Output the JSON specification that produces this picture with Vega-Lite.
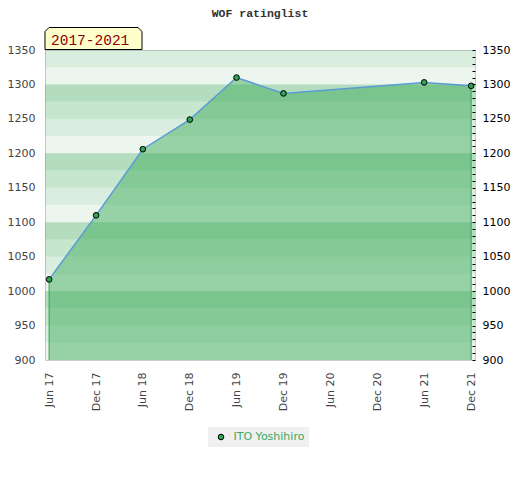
{
  "$schema": "https://vega.github.io/schema/vega-lite/v6.json",
  "width": 430,
  "height": 310,
  "autosize": {"type": "none"},
  "padding": {"left": 45, "top": 50, "right": 45, "bottom": 120},
  "background": "white",
  "title": {"text": "WOF ratinglist", "font": "Liberation Mono", "fontSize": 11.5, "fontWeight": "bold", "color": "#333333", "anchor": "middle", "offset": 6},
  "config": {
    "view": {"stroke": "#cccccc", "strokeWidth": 1},
    "axis": {"labelFont": "DejaVu Sans", "labelFontSize": 11, "grid": false, "domain": false},
    "axisX": {"labelAngle": -90, "labelAlign": "right", "labelBaseline": "middle", "labelPadding": 12,
              "ticks": false, "tickSize": 0, "labelColor": "#444444", "labelFlush": false, "labelOverlap": false}
  },
  "datasets": {
    "ratings": [
      {"date": "2017-06-01", "rating": 1017},
      {"date": "2017-12-01", "rating": 1110},
      {"date": "2018-06-01", "rating": 1206},
      {"date": "2018-12-01", "rating": 1249},
      {"date": "2019-06-01", "rating": 1310},
      {"date": "2019-12-01", "rating": 1287},
      {"date": "2021-06-01", "rating": 1303},
      {"date": "2021-12-01", "rating": 1298}
    ],
    "bands": [
      {"from": 900, "to": 925, "level": 1},
      {"from": 925, "to": 950, "level": 2},
      {"from": 950, "to": 975, "level": 3},
      {"from": 975, "to": 1000, "level": 4},
      {"from": 1000, "to": 1025, "level": 1},
      {"from": 1025, "to": 1050, "level": 2},
      {"from": 1050, "to": 1075, "level": 3},
      {"from": 1075, "to": 1100, "level": 4},
      {"from": 1100, "to": 1125, "level": 1},
      {"from": 1125, "to": 1150, "level": 2},
      {"from": 1150, "to": 1175, "level": 3},
      {"from": 1175, "to": 1200, "level": 4},
      {"from": 1200, "to": 1225, "level": 1},
      {"from": 1225, "to": 1250, "level": 2},
      {"from": 1250, "to": 1275, "level": 3},
      {"from": 1275, "to": 1300, "level": 4},
      {"from": 1300, "to": 1325, "level": 1},
      {"from": 1325, "to": 1350, "level": 2}
    ],
    "period": [{"period": "2017-2021"}]
  },
  "resolve": {"axis": {"y": "independent"}},
  "layer": [
    {
      "data": {"name": "bands"},
      "mark": {"type": "rect", "fill": "#41ab5d", "strokeWidth": 0},
      "encoding": {
        "y": {"field": "from", "type": "quantitative", "title": null,
              "scale": {"domain": [900, 1350], "zero": false, "nice": false},
              "axis": {"orient": "left", "values": [900, 950, 1000, 1050, 1100, 1150, 1200, 1250, 1300, 1350],
                       "format": "d", "ticks": false, "tickSize": 0, "labelPadding": 10, "labelColor": "#444444",
                       "labelFlush": false, "labelOverlap": false}},
        "y2": {"field": "to"},
        "opacity": {"field": "level", "type": "quantitative", "scale": {"domain": [1, 4], "range": [0.1, 0.4]}, "legend": null}
      }
    },
    {
      "data": {"name": "ratings"},
      "mark": {"type": "area", "color": "#41ab5d", "opacity": 0.5},
      "encoding": {
        "x": {"field": "date", "type": "temporal", "title": null,
              "scale": {"type": "utc", "domain": [{"year": 2017, "month": 5, "date": 16, "utc": true}, {"year": 2021, "month": 12, "date": 16, "utc": true}]},
              "axis": {"orient": "bottom", "zindex": 1,
                "values": [1496275200000, 1512086400000, 1527811200000, 1543622400000, 1559347200000, 1575158400000, 1590969600000, 1606780800000, 1622505600000, 1638316800000],
                "labelExpr": "utcFormat(datum.value, '%b %y')"}},
        "y": {"field": "rating", "type": "quantitative", "title": null, "axis": null},
        "y2": {"datum": 900}
      }
    },
    {
      "data": {"name": "ratings"},
      "transform": [{"filter": "time(datum.date) == time('2017-06-01') || time(datum.date) == time('2021-12-01')"}],
      "mark": {"type": "rule", "color": "#3a9d5d", "strokeWidth": 1},
      "encoding": {
        "x": {"field": "date", "type": "temporal", "title": null,
              "axis": {"orient": "bottom", "zindex": 1,
                "values": [1496275200000, 1512086400000, 1527811200000, 1543622400000, 1559347200000, 1575158400000, 1590969600000, 1606780800000, 1622505600000, 1638316800000],
                "labelExpr": "utcFormat(datum.value, '%b %y')"}},
        "y": {"field": "rating", "type": "quantitative", "title": null, "axis": null},
        "y2": {"datum": 900}
      }
    },
    {
      "data": {"name": "ratings"},
      "mark": {"type": "line", "color": "#5b9bd5", "strokeWidth": 1.5},
      "encoding": {
        "x": {"field": "date", "type": "temporal", "title": null,
              "axis": {"orient": "bottom", "zindex": 1,
                "values": [1496275200000, 1512086400000, 1527811200000, 1543622400000, 1559347200000, 1575158400000, 1590969600000, 1606780800000, 1622505600000, 1638316800000],
                "labelExpr": "utcFormat(datum.value, '%b %y')"}},
        "y": {"field": "rating", "type": "quantitative", "title": null,
              "axis": {"orient": "right", "zindex": 1,
                       "values": [900, 910, 920, 930, 940, 950, 960, 970, 980, 990, 1000, 1010, 1020, 1030, 1040, 1050, 1060, 1070, 1080, 1090, 1100, 1110, 1120, 1130, 1140, 1150, 1160, 1170, 1180, 1190, 1200, 1210, 1220, 1230, 1240, 1250, 1260, 1270, 1280, 1290, 1300, 1310, 1320, 1330, 1340, 1350],
                       "format": "d",
                       "labelExpr": "datum.value % 50 == 0 ? datum.label : ''",
                       "ticks": true, "tickSize": -3, "tickColor": "#000000", "tickWidth": 1,
                       "labelColor": "#000000", "labelPadding": 10, "labelFlush": false, "labelOverlap": false}}
      }
    },
    {
      "data": {"name": "ratings"},
      "mark": {"type": "point", "filled": true, "size": 32, "stroke": "#000000", "strokeWidth": 1, "opacity": 1},
      "encoding": {
        "x": {"field": "date", "type": "temporal", "title": null,
              "axis": {"orient": "bottom", "zindex": 1,
                "values": [1496275200000, 1512086400000, 1527811200000, 1543622400000, 1559347200000, 1575158400000, 1590969600000, 1606780800000, 1622505600000, 1638316800000],
                "labelExpr": "utcFormat(datum.value, '%b %y')"}},
        "y": {"field": "rating", "type": "quantitative", "title": null, "axis": null},
        "fill": {"datum": "ITO Yoshihiro", "type": "nominal", "scale": {"range": ["#31a354"]},
                 "legend": {"title": null, "orient": "none", "legendX": 163, "legendY": 377,
                            "fillColor": "#f0f0f0", "padding": 4.5,
                            "labelColor": "#3aa862", "labelFont": "DejaVu Sans", "labelFontSize": 11,
                            "symbolType": "circle", "symbolSize": 32, "symbolStrokeColor": "#000000",
                            "symbolStrokeWidth": 1, "labelOffset": 7, "symbolOffset": 3}}
      }
    },
    {
      "data": {"name": "period"},
      "mark": {"type": "point", "shape": "M-1,0.2268L-1,-0.1443L-0.9175,-0.2268L0.9175,-0.2268L1,-0.1443L1,0.2268Z",
               "size": 9409, "filled": true, "fill": "#ffffcc", "stroke": "#000000", "strokeWidth": 1, "opacity": 1,
               "xOffset": 48.5, "yOffset": -11.5},
      "encoding": {
        "x": {"datum": {"year": 2017, "month": 5, "date": 16, "utc": true}, "type": "temporal",
              "axis": {"orient": "bottom", "zindex": 1,
                "values": [1496275200000, 1512086400000, 1527811200000, 1543622400000, 1559347200000, 1575158400000, 1590969600000, 1606780800000, 1622505600000, 1638316800000],
                "labelExpr": "utcFormat(datum.value, '%b %y')"}},
        "y": {"datum": 1350, "type": "quantitative", "axis": null}
      }
    },
    {
      "data": {"name": "period"},
      "mark": {"type": "text", "font": "Liberation Mono", "fontSize": 14.5, "color": "#8b0000",
               "align": "left", "baseline": "alphabetic", "xOffset": 6, "yOffset": -5},
      "encoding": {
        "x": {"datum": {"year": 2017, "month": 5, "date": 16, "utc": true}, "type": "temporal",
              "axis": {"orient": "bottom", "zindex": 1,
                "values": [1496275200000, 1512086400000, 1527811200000, 1543622400000, 1559347200000, 1575158400000, 1590969600000, 1606780800000, 1622505600000, 1638316800000],
                "labelExpr": "utcFormat(datum.value, '%b %y')"}},
        "y": {"datum": 1350, "type": "quantitative", "axis": null},
        "text": {"field": "period"}
      }
    }
  ]
}
